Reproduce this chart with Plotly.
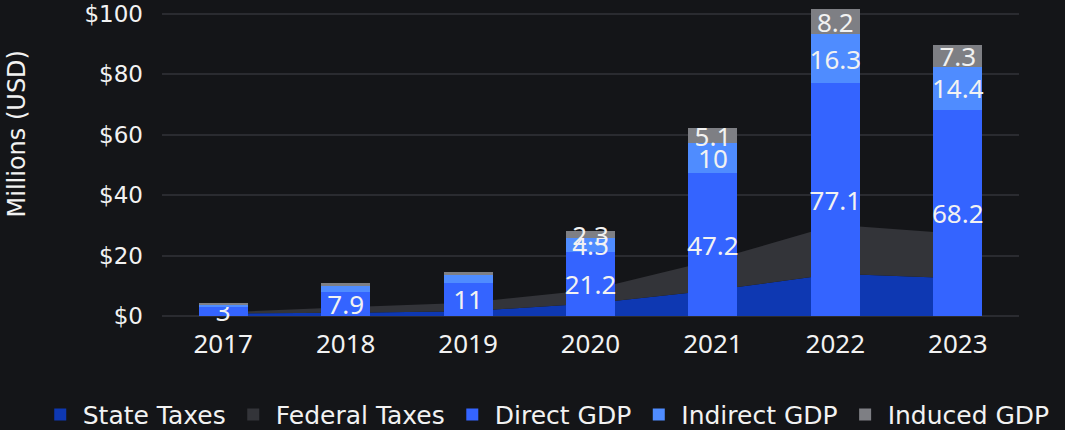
import plotly.graph_objects as go

years = ["2017", "2018", "2019", "2020", "2021", "2022", "2023"]

# area series (stacked), millions USD
state_taxes = [0.8, 1.1, 1.6, 4.1, 8.5, 14.0, 12.5]
federal_taxes = [0.4, 1.8, 2.8, 4.5, 10.0, 16.2, 14.7]

# bar series (stacked), millions USD
direct_gdp = [3, 7.9, 11, 21.2, 47.2, 77.1, 68.2]
indirect_gdp = [0.7, 1.9, 2.6, 4.5, 10, 16.3, 14.4]
induced_gdp = [0.6, 1.0, 1.1, 2.3, 5.1, 8.2, 7.3]

# which bar segments get a value label
show_indirect = [False, False, False, True, True, True, True]
show_induced = [False, False, False, True, True, True, True]

y_ticks = [0, 20, 40, 60, 80, 100]

BG = "#141518"
GRID = "#2a2b30"
TXT = "#f2f2f2"
FONT = "Noto Sans"
FONT2 = "DejaVu Sans"


def labels(vals, show=None):
    if show is None:
        show = [True] * len(vals)
    return ["{:g}".format(v) if s else "" for v, s in zip(vals, show)]


fig = go.Figure()

# areas (behind the bars, on the base axis); legend entries come from square proxies below
tax_series = [("State Taxes", state_taxes, "#0e38b2"), ("Federal Taxes", federal_taxes, "#333439")]
for name, vals, col in tax_series:
    fig.add_trace(go.Scatter(x=years, y=vals, name=name, stackgroup="tax", mode="none",
                             fillcolor=col, line=dict(width=0), showlegend=False,
                             legendgroup=name, yaxis="y"))
for name, vals, col in tax_series:
    fig.add_trace(go.Bar(x=[None], y=[None], name=name, marker_color=col, marker_line_width=0,
                         legendgroup=name, yaxis="y2"))

bar_font = dict(family=FONT, size=26, color=TXT)
for name, vals, col, show in [("Direct GDP", direct_gdp, "#3464ff", None),
                              ("Indirect GDP", indirect_gdp, "#4f8cff", show_indirect),
                              ("Induced GDP", induced_gdp, "#7e7f84", show_induced)]:
    fig.add_trace(go.Bar(x=years, y=vals, name=name, marker_color=col, marker_line_width=0,
                         text=labels(vals, show), textposition="inside", insidetextanchor="middle",
                         constraintext="none", textfont=bar_font, textangle=0,
                         cliponaxis=False, yaxis="y2"))

fig.update_layout(
    width=1065, height=430,
    paper_bgcolor=BG, plot_bgcolor=BG,
    margin=dict(l=162, r=46, t=8, b=114, autoexpand=False),
    barmode="stack", bargap=0.6,
    font=dict(family=FONT2, color=TXT, size=22),
    showlegend=True,
    legend=dict(orientation="h", x=-0.145, xanchor="left", y=-0.321, yanchor="middle",
                font=dict(family=FONT2, size=25, color=TXT), itemwidth=35, traceorder="normal",
                bgcolor="rgba(0,0,0,0)"),
    xaxis=dict(type="category", showgrid=False, zeroline=False, showline=False,
               tickfont=dict(family=FONT, size=26, color=TXT), ticks="", ticklabelstandoff=10),
    yaxis=dict(range=[0, 102], tickvals=y_ticks, ticktext=["$" + str(v) for v in y_ticks],
               showgrid=True, gridcolor=GRID, gridwidth=2, zeroline=True, zerolinecolor=GRID,
               zerolinewidth=2, tickfont=dict(family=FONT2, size=23, color=TXT), ticks="",
               ticklabelstandoff=18),
    yaxis2=dict(range=[0, 102], overlaying="y", visible=False, showgrid=False, zeroline=False),
    annotations=[dict(text="Millions (USD)", textangle=-90, x=-0.169, y=0.59,
                      xref="paper", yref="paper", xanchor="center", yanchor="middle",
                      showarrow=False, font=dict(family=FONT2, size=24, color=TXT))],
)

fig.write_html("out.html", post_script="document.body.style.margin='0';",
               config={"displayModeBar": False})
